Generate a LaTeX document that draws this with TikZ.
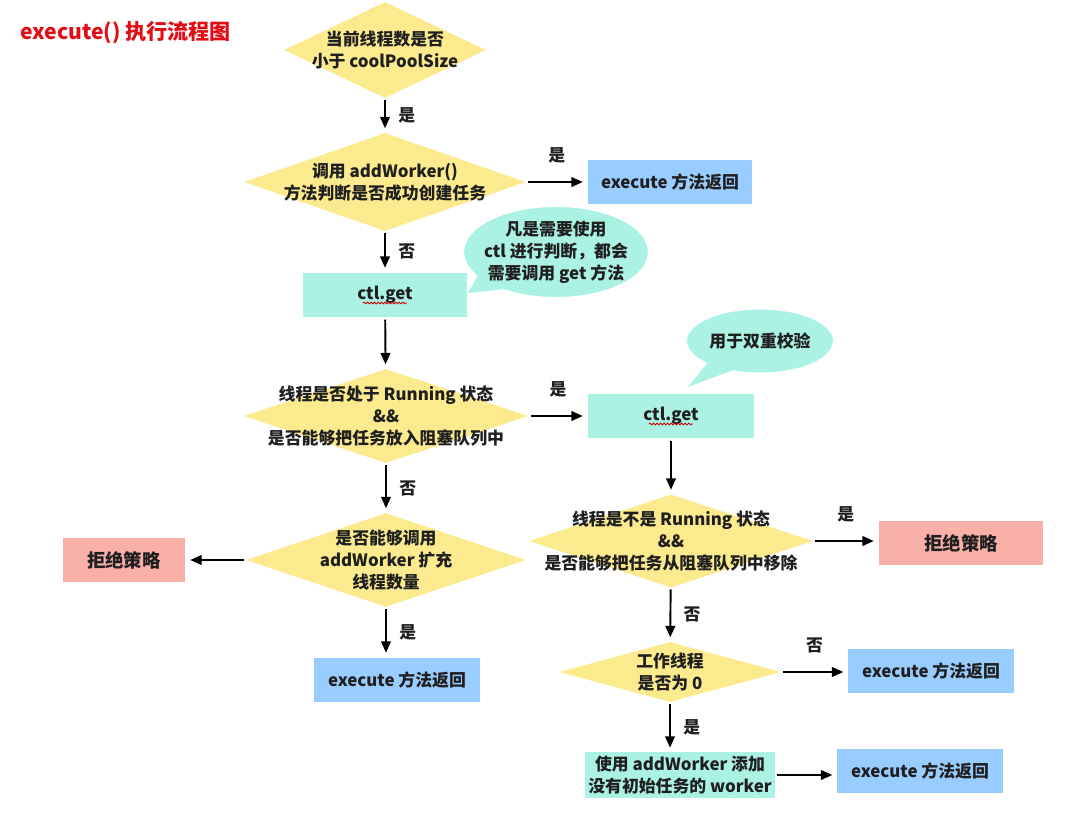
\documentclass[tikz,border=0pt]{standalone}
\usepackage{fontspec}
\setmainfont{Noto Sans CJK SC}
\usepackage{tikz}
\usetikzlibrary{arrows.meta,positioning,shapes.geometric,shapes.callouts,decorations.pathmorphing}
\definecolor{dyellow}{RGB}{252,234,142}
\definecolor{cteal}{RGB}{172,242,228}
\definecolor{cblue}{RGB}{153,204,255}
\definecolor{csalmon}{RGB}{248,176,168}
\definecolor{ctitle}{RGB}{228,12,20}

\begin{document}
\begin{tikzpicture}[
  x=0.02cm, y=-0.02cm,
  font=\fontsize{9.6}{12.5}\selectfont\bfseries,
  text=black!88,
  box/.style={inner sep=2pt, align=center, minimum width=3.3cm, minimum height=0.9cm},
  ret/.style={box, fill=cblue},
  getbox/.style={box, fill=cteal},
  reject/.style={box, fill=csalmon, font=\fontsize{10.5}{12.5}\selectfont\bfseries},
  decision/.style={diamond, fill=dyellow, inner sep=0pt},
  dtext/.style={align=center, inner sep=0pt},
  bubble/.style={ellipse callout, fill=cteal, align=center, inner xsep=-4pt,
                 inner ysep=0pt, callout pointer arc=24},
  arr/.style={-{Triangle[length=6.5pt,width=5.5pt]}, line width=1.1pt,
              shorten <=1pt, shorten >=2.5pt},
  arrlabel/.style={inner sep=1pt},
  squig/.style={draw=red!80!black, line width=0.5pt, decorate,
                decoration={snake, amplitude=0.5pt, segment length=2pt}}
]
  \useasboundingbox (0,0) rectangle (1080,814);

  % --- title ---
  \node[anchor=west, inner sep=0pt, text=ctitle, font=\fontsize{12}{14}\selectfont\bfseries]
       (title) at (20,33) {execute() 执行流程图};

  % --- left column ---
  \node[decision, minimum width=4.04cm, minimum height=1.92cm,
        label={[dtext]center:{当前线程数是否\\小于 coolPoolSize}}] (d1) at (385,50) {};
  \node[decision, minimum width=5.64cm, minimum height=1.96cm,
        label={[dtext]center:{调用 addWorker()\\方法判断是否成功创建任务}}] (d2) at (385,182) {};
  \node[getbox] (ctl1) at (385,295) {ctl.get};
  \node[decision, minimum width=5.7cm, minimum height=1.88cm,
        label={[dtext]center:{线程是否处于 Running 状态\\\&\&\\是否能够把任务放入阻塞队列中}}] (d3) at (386,416) {};
  \node[decision, minimum width=5.6cm, minimum height=1.88cm,
        label={[dtext]center:{是否能够调用\\addWorker 扩充\\线程数量}}] (d5) at (386,560) {};
  \node[reject, minimum width=2.46cm] (rej1) at (124,560) {拒绝策略};
  \node[ret, minimum width=3.32cm] (exec2) at (397,680) {execute 方法返回};

  % --- right column ---
  \node[ret] (exec1) at (670,182) {execute 方法返回};
  \node[getbox, minimum width=3.34cm] (ctl2) at (671,416) {ctl.get};
  \node[decision, minimum width=5.68cm, minimum height=1.86cm,
        label={[dtext]center:{线程是不是 Running 状态\\\&\&\\是否能够把任务从阻塞队列中移除}}] (d4) at (671,541) {};
  \node[reject] (rej2) at (961,543) {拒绝策略};
  \node[decision, minimum width=4.44cm, minimum height=1.2cm,
        label={[dtext]center:{工作线程\\是否为 0}}] (d6) at (670,672) {};
  \node[ret, minimum width=3.32cm] (exec3) at (931,671) {execute 方法返回};
  \node[getbox, minimum width=3.68cm] (addw) at (680,775)
       {使用 addWorker 添加\\没有初始任务的 worker};
  \node[ret, minimum width=3.32cm] (exec4) at (920,771) {execute 方法返回};

  % --- speech bubbles ---
  \coordinate (tipA) at (468,293);
  \coordinate (tipB) at (688,387);
  \node[bubble, minimum width=3.54cm, minimum height=1.8cm, callout absolute pointer={(tipA)}]
       (note1) at (556,252) {凡是需要使用\\ctl 进行判断，都会\\需要调用 get 方法};
  \node[bubble, minimum width=2.92cm, minimum height=1.26cm, callout absolute pointer={(tipB)}]
       (note2) at (760,341) {用于双重校验};

  % red spell-check marks under ctl.get
  \draw[squig] ([shift={(-22,8)}]ctl1.center) -- ([shift={(22,8)}]ctl1.center);
  \draw[squig] ([shift={(-22,8)}]ctl2.center) -- ([shift={(22,8)}]ctl2.center);

  % --- connectors ---
  \draw[arr] (d1) -- (d2) node[arrlabel, midway, right=6pt] {是};
  \draw[arr] (d2.east) -- (exec1.west) node[arrlabel, midway, above=9pt] {是};
  \draw[arr] (d2) -- (ctl1) node[arrlabel, midway, right=6pt] {否};
  \draw[arr] (ctl1) -- (d3);
  \draw[arr] (d3.east) -- (ctl2.west) node[arrlabel, midway, above=9pt] {是};
  \draw[arr] (d3) -- (d5) node[arrlabel, midway, right=6pt] {否};
  \draw[arr] (d5.west) -- (rej1.east);
  \draw[arr] (d5.south) -- (d5.south |- exec2.north) node[arrlabel, midway, right=6pt] {是};
  \draw[arr] (ctl2) -- (d4);
  \draw[arr] (d4.east) -- (d4.east -| rej2.west) node[arrlabel, midway, above=9pt] {是};
  \draw[arr] (d4) -- (d6) node[arrlabel, midway, right=6pt] {否};
  \draw[arr] (d6.east) -- (d6.east -| exec3.west) node[arrlabel, midway, above=9pt] {否};
  \draw[arr] (d6.south) -- (d6.south |- addw.north) node[arrlabel, midway, right=6pt] {是};
  \draw[arr] (addw.east) -- (addw.east -| exec4.west);
\end{tikzpicture}
\end{document}
